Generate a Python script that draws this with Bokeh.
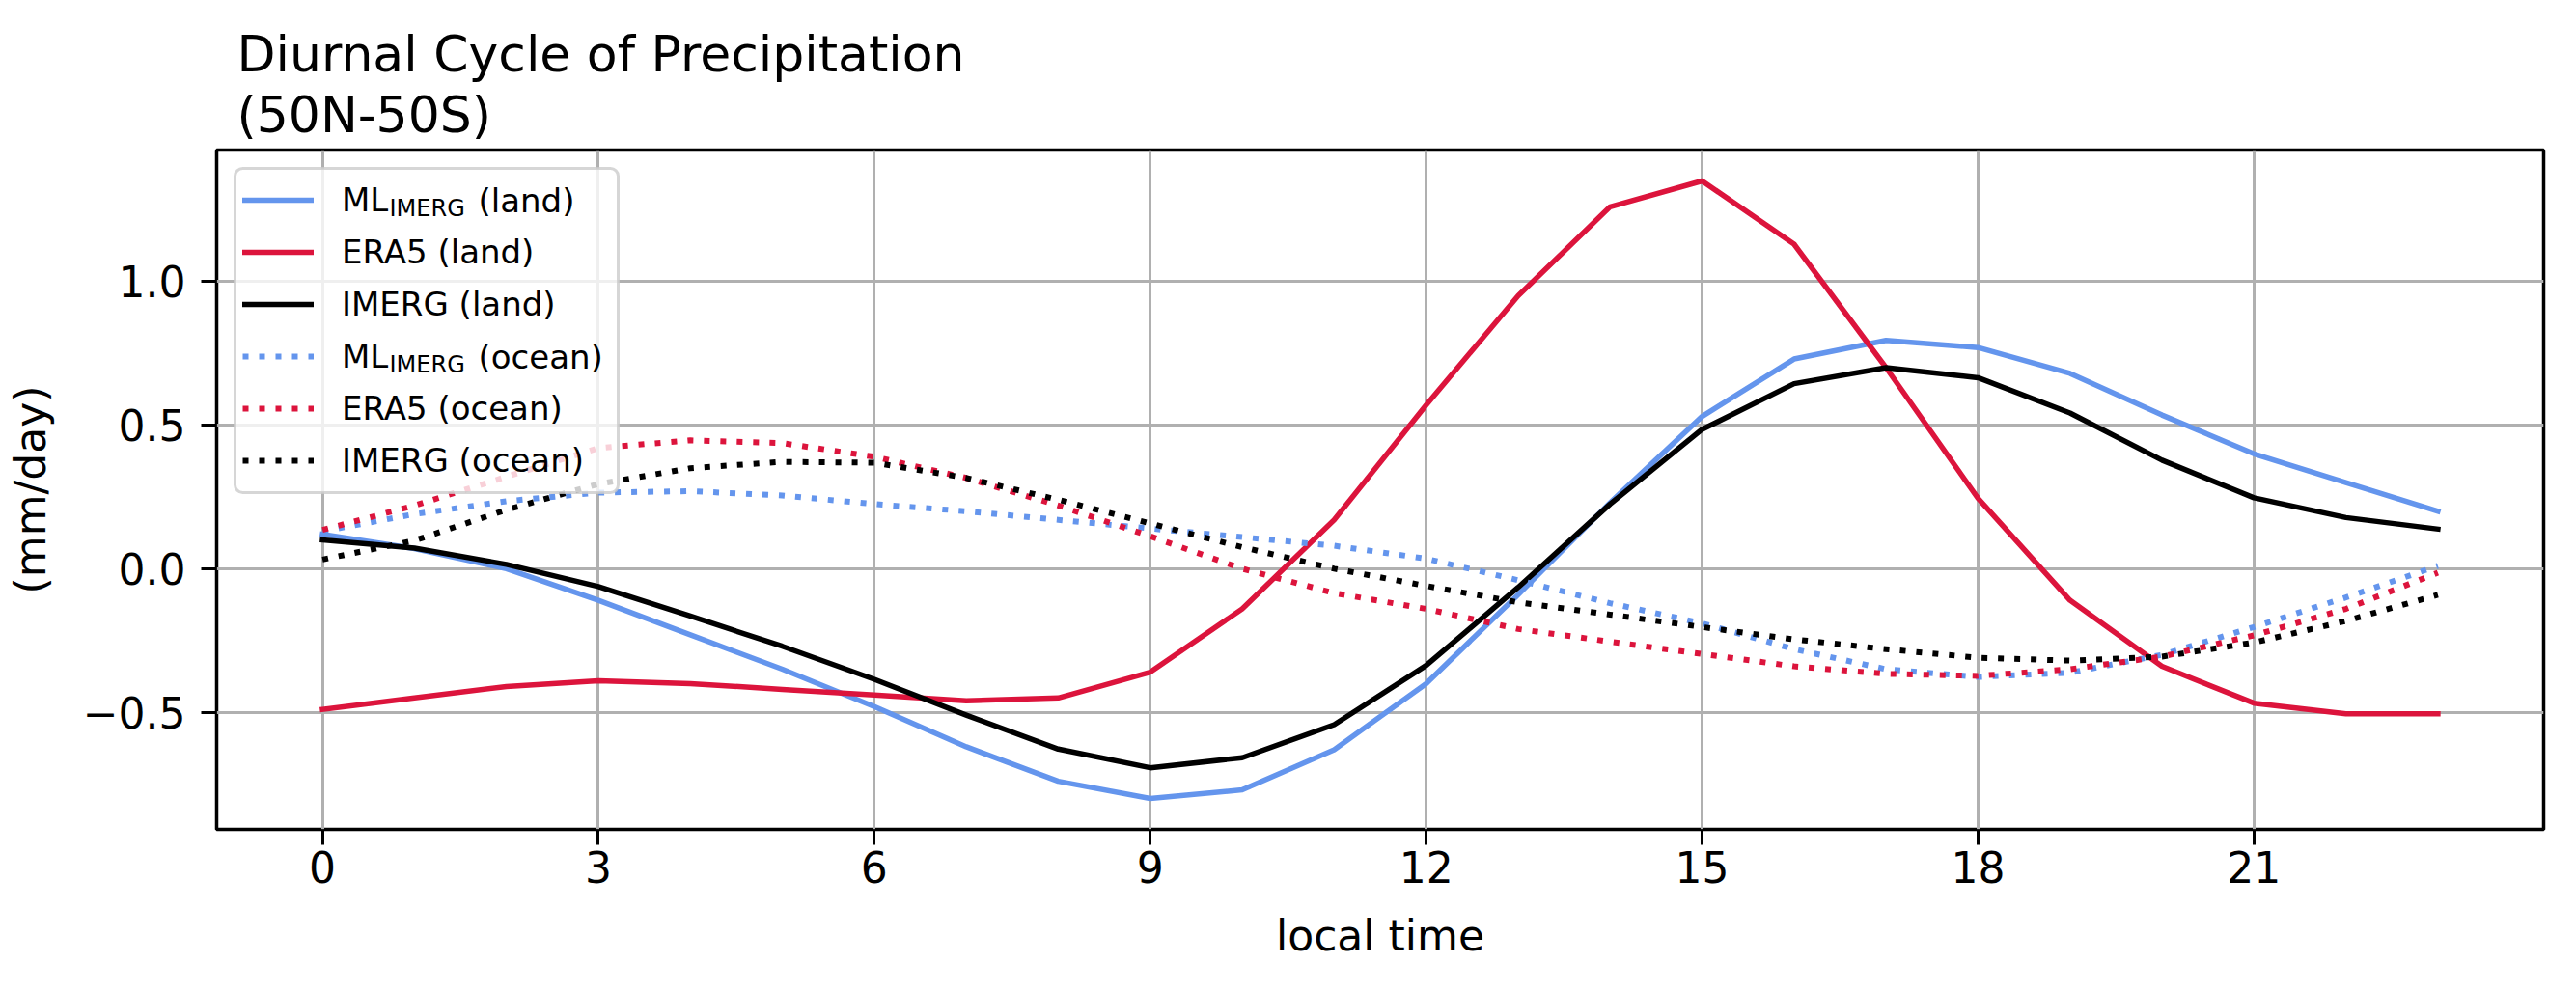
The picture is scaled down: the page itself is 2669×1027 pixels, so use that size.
from bokeh.plotting import figure
from bokeh.models import (Range1d, FixedTicker, CustomJSTickFormatter, Legend, LegendItem, Label,
                          BoxAnnotation)
from bokeh.embed import file_html
from bokeh.resources import INLINE

hours = list(range(24))
ml_land = [0.12, 0.07, 0.00, -0.11, -0.23, -0.35, -0.48, -0.62, -0.74, -0.80, -0.77, -0.63,
           -0.40, -0.09, 0.23, 0.53, 0.73, 0.795, 0.77, 0.68, 0.535, 0.40, 0.30, 0.20]
era5_land = [-0.49, -0.45, -0.41, -0.39, -0.40, -0.42, -0.44, -0.46, -0.45, -0.36, -0.14, 0.17,
             0.57, 0.95, 1.26, 1.35, 1.13, 0.70, 0.245, -0.11, -0.34, -0.468, -0.505, -0.505]
imerg_land = [0.10, 0.072, 0.015, -0.062, -0.165, -0.27, -0.385, -0.51, -0.628, -0.693, -0.658, -0.543,
              -0.337, -0.065, 0.225, 0.485, 0.644, 0.70, 0.665, 0.542, 0.378, 0.247, 0.178, 0.138]
ml_ocean = [0.13, 0.19, 0.235, 0.265, 0.27, 0.255, 0.225, 0.20, 0.17, 0.14, 0.11, 0.08,
            0.035, -0.04, -0.12, -0.19, -0.28, -0.35, -0.377, -0.362, -0.30, -0.203, -0.10, 0.01]
era5_ocean = [0.135, 0.22, 0.32, 0.42, 0.447, 0.437, 0.39, 0.316, 0.22, 0.113, 0.0, -0.085,
              -0.14, -0.21, -0.254, -0.297, -0.34, -0.366, -0.373, -0.35, -0.306, -0.232, -0.14, -0.014]
imerg_ocean = [0.032, 0.098, 0.205, 0.295, 0.35, 0.372, 0.369, 0.316, 0.24, 0.158, 0.075, 0.0,
               -0.06, -0.117, -0.16, -0.203, -0.246, -0.28, -0.31, -0.32, -0.306, -0.257, -0.182, -0.091]

x_ticks = [0, 3, 6, 9, 12, 15, 18, 21]
y_ticks = [-0.5, 0.0, 0.5, 1.0]
title_text = "Diurnal Cycle of Precipitation\n(50N-50S)"
x_label = "local time"
y_label = "(mm/day)"

series = [
    ("ML", "(land)", ml_land, "#6495ED", "solid"),
    ("ERA5 (land)", None, era5_land, "#DC143C", "solid"),
    ("IMERG (land)", None, imerg_land, "black", "solid"),
    ("ML", "(ocean)", ml_ocean, "#6495ED", "dotted"),
    ("ERA5 (ocean)", None, era5_ocean, "#DC143C", "dotted"),
    ("IMERG (ocean)", None, imerg_ocean, "black", "dotted"),
]

FONT = "DejaVu Sans"

allv = ml_land + era5_land + imerg_land + ml_ocean + era5_ocean + imerg_ocean
vmin, vmax = min(allv), max(allv)
pad_y = 0.05 * (vmax - vmin)
pad_x = 0.05 * (hours[-1] - hours[0])

FRAME_H = 704
p = figure(width=2653, height=1011, output_backend="svg", toolbar_location=None,
           x_range=Range1d(hours[0] - pad_x, hours[-1] + pad_x),
           y_range=Range1d(vmin - pad_y, vmax + pad_y),
           min_border_left=224, min_border_right=18, min_border_top=155, min_border_bottom=152)

p.background_fill_color = "white"
p.border_fill_color = "white"
p.outline_line_color = "black"
p.outline_line_width = 3.5

p.title.text = title_text
p.title.text_font = FONT
p.title.text_font_size = "52px"
p.title.text_font_style = "normal"
p.title.text_color = "black"
p.title.align = "left"
p.title.offset = 21
p.title.standoff = 14
p.title.text_line_height = 1.05

for ax in (p.xaxis[0], p.yaxis[0]):
    ax.axis_line_color = None
    ax.major_tick_line_width = 3
    ax.major_tick_line_color = "black"
    ax.major_tick_out = 16
    ax.major_tick_in = 0
    ax.minor_tick_line_color = None
    ax.major_label_text_font = FONT
    ax.major_label_text_font_size = "44px"
    ax.major_label_text_color = "black"
    ax.axis_label_text_font = FONT
    ax.axis_label_text_font_size = "44px"
    ax.axis_label_text_font_style = "normal"
    ax.axis_label_text_color = "black"

p.xaxis[0].ticker = FixedTicker(ticks=x_ticks)
p.yaxis[0].ticker = FixedTicker(ticks=y_ticks)
p.yaxis[0].formatter = CustomJSTickFormatter(
    code="return (tick < 0 ? '\u2212' : '') + Math.abs(tick).toFixed(1);")
p.xaxis[0].axis_label = x_label
p.yaxis[0].axis_label = y_label
p.xaxis[0].major_label_standoff = 6
p.xaxis[0].axis_label_standoff = 26
p.yaxis[0].major_label_standoff = 16
p.yaxis[0].axis_label_standoff = 26

for g in (p.xgrid[0], p.ygrid[0]):
    g.grid_line_color = "#b0b0b0"
    g.grid_line_width = 3
p.xgrid[0].ticker = FixedTicker(ticks=x_ticks)
p.ygrid[0].ticker = FixedTicker(ticks=y_ticks)

items = []
for name, suffix, vals, color, style in series:
    dash = "solid" if style == "solid" else "6 11"
    r = p.line(hours, vals, line_color=color, line_width=5.5 if style == "solid" else 6,
               line_dash=dash, line_join="round",
               line_cap="square" if style == "solid" else "butt")
    items.append(LegendItem(label=name, renderers=[r]))

# legend frame (drawn as a box so that the label parts can sit above it)
LEG_MARGIN, LEG_PAD, GLYPH_W, STANDOFF, LABEL_W = 19, 8, 74, 29, 278
ROW_H, SPACING, N = 50, 4, len(series)
leg_w = 2 * LEG_PAD + GLYPH_W + STANDOFF + LABEL_W
leg_h = 2 * LEG_PAD + N * ROW_H + (N - 1) * SPACING
leg_top = FRAME_H - LEG_MARGIN
p.add_layout(BoxAnnotation(left=LEG_MARGIN, right=LEG_MARGIN + leg_w,
                           top=leg_top, bottom=leg_top - leg_h,
                           left_units="screen", right_units="screen",
                           top_units="screen", bottom_units="screen",
                           fill_color="white", fill_alpha=0.8,
                           line_color="#cccccc", line_alpha=0.8, line_width=3,
                           border_radius=8))

legend = Legend(items=items, location="top_left", margin=LEG_MARGIN, padding=LEG_PAD,
                glyph_width=GLYPH_W, glyph_height=ROW_H, label_height=ROW_H, label_width=LABEL_W,
                label_standoff=STANDOFF, spacing=SPACING,
                label_text_font=FONT, label_text_font_size="34px", label_text_color="black",
                background_fill_alpha=0.0, border_line_color="white", border_line_alpha=0.0)
p.add_layout(legend)

# subscript parts of the ML legend labels
text_x = LEG_MARGIN + LEG_PAD + GLYPH_W + STANDOFF
for i, (name, suffix, vals, color, style) in enumerate(series):
    if suffix is None:
        continue
    yc = leg_top - LEG_PAD - ROW_H / 2 - i * (ROW_H + SPACING)
    p.add_layout(Label(x=text_x + 49, y=yc - 8, x_units="screen", y_units="screen", text="IMERG",
                       text_font=FONT, text_font_size="24px", text_baseline="middle",
                       text_color="black"))
    p.add_layout(Label(x=text_x + 141, y=yc, x_units="screen", y_units="screen", text=suffix,
                       text_font=FONT, text_font_size="34px", text_baseline="middle",
                       text_color="black"))

open("out.html", "w").write(file_html(p, INLINE))
